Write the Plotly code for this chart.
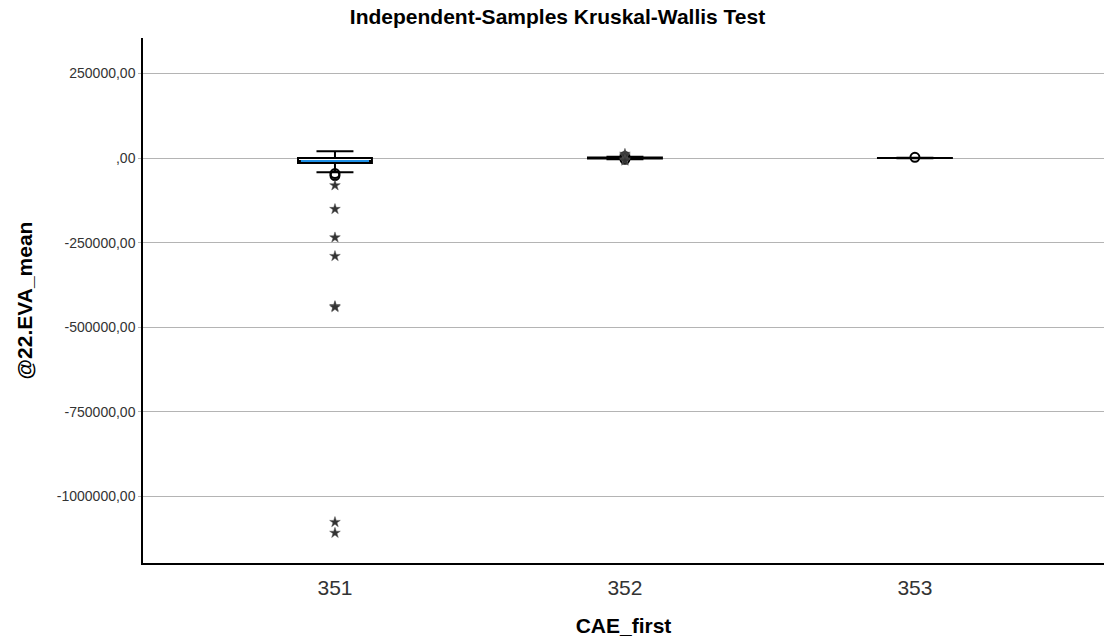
import plotly.graph_objects as go

# Box-plot summary per CAE_first group
categories = ["351", "352", "353"]
q1_vals = [-15000, -1500, -300]
median_vals = [-9000, 0, 0]
q3_vals = [0, 1500, 300]
lower_whiskers = [-42000, -3500, -600]
upper_whiskers = [20000, 3500, 600]

# Outliers: circles (mild), stars (extreme)
circle_outliers = {
    "351": [-46000, -52000],
    "352": [-4000, 4500],
    "353": [2000],
}
star_outliers = {
    "351": [-81000, -151000, -235000, -290000, -438000, -441000, -1076000, -1108000],
    "352": [12000, 7000, -5000, -8000],
    "353": [],
}

# Y axis ticks
y_tick_vals = [250000, 0, -250000, -500000, -750000, -1000000]
y_tick_text = ["250000,00", ",00", "-250000,00", "-500000,00", "-750000,00", "-1000000,00"]

positions = list(range(len(categories)))
box_width = 0.255

fig = go.Figure()

for i, cat in enumerate(categories):
    fig.add_trace(go.Box(
        x=[i], q1=[q1_vals[i]], median=[median_vals[i]], q3=[q3_vals[i]],
        lowerfence=[lower_whiskers[i]], upperfence=[upper_whiskers[i]],
        width=box_width, whiskerwidth=0.5,
        line=dict(color="black", width=2),
        fillcolor="rgba(0,0,0,0)",
        boxpoints=False, showlegend=False, hoverinfo="skip",
    ))

# Median line in blue over the box
for i, cat in enumerate(categories):
    if q3_vals[i] - q1_vals[i] > 5000:
        fig.add_trace(go.Scatter(
            x=[i - box_width / 2 + 0.01, i + box_width / 2 - 0.01],
            y=[median_vals[i], median_vals[i]],
            mode="lines", line=dict(color="#1e90e6", width=2),
            showlegend=False, hoverinfo="skip",
        ))

for i, cat in enumerate(categories):
    if circle_outliers[cat]:
        fig.add_trace(go.Scatter(
            x=[i] * len(circle_outliers[cat]), y=circle_outliers[cat],
            mode="markers",
            marker=dict(symbol="circle-open", size=9, color="black", line=dict(width=2)),
            showlegend=False, hoverinfo="skip",
        ))
    if star_outliers[cat]:
        fig.add_trace(go.Scatter(
            x=[i] * len(star_outliers[cat]), y=star_outliers[cat],
            mode="markers",
            marker=dict(symbol="star", size=8, color="#333333",
                        line=dict(color="#555555", width=0.5)),
            showlegend=False, hoverinfo="skip",
        ))

fig.update_layout(
    width=1104, height=642,
    margin=dict(l=143, r=0, t=38, b=79),
    paper_bgcolor="white", plot_bgcolor="white",
    font=dict(family="Liberation Sans, Arial, sans-serif", color="black"),
    title=dict(
        text="<b>Independent-Samples Kruskal-Wallis Test</b>",
        x=0.505, xanchor="center", y=1 - 17 / 642, yanchor="middle",
        font=dict(size=21, color="black"),
    ),
    xaxis=dict(
        range=[-0.662, 2.652],
        tickvals=positions, ticktext=categories,
        tickfont=dict(size=21, color="#333333"),
        showgrid=False, zeroline=False,
        showline=True, linecolor="black", linewidth=1.5,
        ticks="", ticklabelstandoff=5,
        title=dict(text="<b>CAE_first</b>", font=dict(size=21, color="black"), standoff=20),
    ),
    yaxis=dict(
        range=[-1196800, 354600],
        tickvals=y_tick_vals, ticktext=y_tick_text,
        tickfont=dict(size=14, color="#333333"),
        showgrid=True, gridcolor="#b4b4b4", gridwidth=1,
        zeroline=False,
        showline=True, linecolor="black", linewidth=1.5,
        ticks="outside", ticklen=3, tickcolor="#b4b4b4",
        title=dict(text="<b>@22.EVA_mean</b>", font=dict(size=21, color="black"), standoff=18),
    ),
)

fig.write_html("out.html")
